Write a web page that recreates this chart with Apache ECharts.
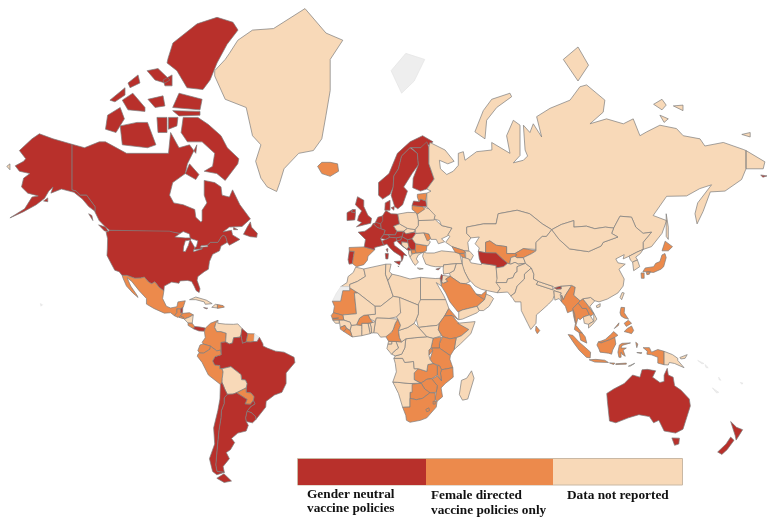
<!DOCTYPE html>
<html><head><meta charset="utf-8">
<style>html,body{margin:0;padding:0;background:#fff}#c{width:778px;height:521px}</style>
<script src="https://cdn.jsdelivr.net/npm/echarts@6/dist/echarts.min.js"></script>
</head><body><div id="c"></div>
<script>
const legendLabels = [["Gender neutral","vaccine policies"],["Female directed","vaccine policies only"],["Data not reported"]];
const genderNeutral = ["Canada","United States","Alaska","Panama","Belize","Jamaica","Brazil","Guyana","Uruguay","Argentina","Chile","Portugal","France","United Kingdom","Ireland","Norway","Sweden","Finland","Denmark","Germany","Netherlands","Belgium","Switzerland","Austria","Italy","Hungary","Slovenia","Croatia","Serbia","Montenegro","Latvia","Israel","Cyprus","Malta","Turkmenistan","Bhutan","Australia","New Zealand"];
const femaleDirected = ["Iceland","Mexico","Guatemala","Honduras","El Salvador","Costa Rica","Dominican Republic","Colombia","Ecuador","Peru","Paraguay","Suriname","Spain","North Macedonia","Bulgaria","Moldova","Estonia","Lithuania","Georgia","Armenia","Uzbekistan","Kyrgyzstan","Saudi Arabia","UAE","Mauritania","Senegal","Gambia","Burkina Faso","Sierra Leone","Liberia","Cameroon","Ethiopia","Eritrea","Uganda","Kenya","Rwanda","Tanzania","Malawi","Mozambique","Zambia","Zimbabwe","Botswana","South Africa","Eswatini","Lesotho","Sri Lanka","Myanmar","Thailand","Laos","Malaysia","Indonesia","Philippines","Japan"];
const noDataGrey = ["Svalbard","Western Sahara","French Guiana","Hawaii","Solomon Is","Vanuatu","New Caledonia","Fiji"];
const waterBodies = ["Great Lakes"];
const colors = {neutral:"#b8302b",female:"#ec8a4c",none:"#f8d9b8",grey:"#eeeeee"};
const shapes = {
"United States":[[-124.7,48.4,-123,49,-95,49,-94.6,48.7,-92,48.3,-89.5,48,-88,48.3,-84.7,46.5,-82.5,45.3,-82.4,43,-83,42,-79,42.8,-79,43.4,-76.5,44,-75,45,-71.5,45,-70,46.7,-69,47.4,-67.8,47,-67,45,-70,43.7,-70.7,42,-74,40.7,-75.5,38,-76,35,-78,34,-81,32,-81.4,30.5,-80,26.8,-80.4,25.2,-81.8,26,-82.8,28,-84,30,-86,30.4,-89.5,30.2,-90,29.2,-93.5,29.7,-97,28,-97.2,25.9,-99.5,27.5,-101.5,29.8,-103,29,-104.5,29.7,-106.5,31.8,-108.2,31.4,-111,31.3,-114.8,32.5,-117.1,32.5,-118.5,34,-120.6,34.6,-122.5,37.5,-124.3,40.3,-124.1,43,-124,46.2]],
"Canada":[[-141,69.6,-135,69,-128,70,-125,70,-115,68,-108,68,-100,68,-95,68,-94,71.5,-90,69,-85,69.5,-82,68,-81.5,69.5,-86,66,-87,64,-93,62,-94.5,59,-92.5,57,-88,56.5,-82.5,55.2,-82,53,-79.5,51.5,-79,52,-79,55,-76.7,57,-78,59,-78,62.5,-73,62,-70,61,-69.5,59,-66,58.5,-64.5,60.3,-61,56.5,-56,52.5,-60,50.2,-66,50,-69,48.5,-65,49,-64.5,47.5,-61,46,-66,44,-67,45,-67.8,47,-69,47.4,-70,46.7,-71.5,45,-75,45,-76.5,44,-79,43.4,-79,42.8,-83,42,-82.4,43,-82.5,45.3,-84.7,46.5,-88,48.3,-89.5,48,-92,48.3,-94.6,48.7,-95,49,-123,49,-125,50,-128,52,-130,54.5,-130,56,-134,59,-137,59,-139,60,-141,60.3],
[-62,66,-68,62.5,-72,64,-78,64.5,-74,65.5,-73,68,-79,70,-86,70,-89,71.5,-88,73.7,-81,73.7,-76,72.7,-70,71,-67,69,-61.5,67],
[-117,69.5,-105,69,-101,69.5,-105,73,-110,73,-118,72.5],[-125,72,-120,71.5,-116,73.5,-118,75,-124,74],
[-95.2,80.1,-92.9,81.3,-81.4,82.6,-71.9,83,-64.3,82.7,-61.9,82.2,-67.1,81.2,-71.9,79.7,-75.2,78.1,-78.6,77.1,-86.2,77.3,-91,79,-95.7,79.7],
[-93,75,-80,74.7,-79,76,-90,76.7],[-93,74.6,-80,74.5,-80,74,-90,73.9],
[-105.2,79,-100,79.2,-94.3,78.1,-96.7,77.8,-101.4,78.1],[-114.3,77.8,-109.5,78.6,-108.6,77.8,-113.3,77.3],[-122.9,75.9,-115.7,77.3,-115.7,76.5,-120.5,75.7],[-117,75.9,-112,76.7,-106.2,75,-106.2,74.5,-114.3,74.7],[-104.8,76,-97.6,76.4,-96.7,75.2,-101.4,75],[-97.6,78.1,-93.3,78.6,-93.3,77.5,-96.7,77.5],[-100.5,73.7,-95.7,73.7,-95.7,71.5,-100,71.5],[-95,73.7,-90.5,73.7,-91,72.5,-95,72],
[-87,64,-82,62.7,-80.5,63.8,-85,66],[-59.3,47.7,-56,46.9,-53,46.7,-52.7,48,-55.5,50,-56,51.6,-57.5,50],[-128.3,50.7,-125,50,-123.5,48.5,-125.5,48.8],[-133,54,-131.5,53.5,-131,52,-132,53],[-64,49.9,-62,49.2,-64,49.2]],
"Great Lakes":[[-92,46.8,-88,48.6,-85,47.8,-84.7,46.5,-87,46.5],[-88,41.8,-87,41.7,-85.5,44,-84.8,45.8,-87,45.5,-87.8,43.5],[-84.6,45.8,-82.5,43.2,-81.7,43.5,-81,45.5,-84,46.2],[-83,41.7,-79,42.7,-79,43,-83,42.4],[-79.8,43.3,-76.2,43.5,-76.5,44,-79.5,43.8]],
"Alaska":[[-141,69.6,-141,60.3,-139,60,-137,59,-134,59,-130,56,-130,54.7,-133,56,-136,58,-140,59.7,-146,60.5,-151,59.5,-150,61,-152,60,-154,58.2,-158,56.5,-164,54.6,-170.5,52.8,-163.5,55.4,-160,58.5,-157,58.8,-162,59.5,-165,61,-164,63,-161,64,-166,64.5,-168,65.6,-164,66.5,-163,67,-166,68.5,-160,70.5,-156.5,71.3,-150,70.5],[-154.5,57.5,-152.5,58.3,-152.5,57.3],[187,63.7,190,63.5,188,63.2]],
"Greenland":[[-73,78.5,-68,76,-58,75,-55,71,-51,69.5,-53.5,66.5,-51,63,-48,61,-43.5,59.9,-42,62,-40,65,-33,68,-26,68.5,-22,70.5,-20,74,-18,77,-18,80,-12,81.5,-20,82,-30,83.5,-45,82.3,-55,82.2,-62,81.5,-66,80.5,-68,80,-73,79]],
"Iceland":[[-24,65.5,-22,64,-18,63.4,-14,64.5,-14.5,66,-18,66.3,-22,66.3]],
"Mexico":[[-117.1,32.5,-114.8,32.5,-111,31.3,-108.2,31.4,-106.5,31.8,-104.5,29.7,-103,29,-101.5,29.8,-99.5,27.5,-97.2,25.9,-97.8,22.5,-96,19,-94,18.2,-91,18.8,-90.5,21,-87,21.5,-88,18.5,-89.2,17.8,-91,17.8,-91,16,-92.2,14.6,-94,16,-97,15.8,-102,18,-105.5,20,-105.5,22.5,-109,26,-112.5,30,-114.7,31.5,-113,28,-110,24,-109.5,23,-112,25,-115,28,-116.5,31]],
"Guatemala":[[-92.2,14.6,-91,16,-91,17.8,-89.2,17.8,-89,15.8,-88.2,15.7,-89.3,14.4,-90.5,13.8]],
"Belize":[[-89.2,17.8,-88.2,18.5,-88.3,16,-89.1,15.9]],
"Honduras":[[-89.3,14.4,-88.2,15.7,-85,16,-83.2,15,-85,14,-87.5,13]],
"El Salvador":[[-90,13.8,-89.3,14.4,-87.7,13.8,-87.9,13.2]],
"Nicaragua":[[-87.5,13,-85,14,-83.2,15,-83.7,11,-85.7,11.1]],
"Costa Rica":[[-85.7,11.1,-83.7,11,-82.6,9.5,-83,8.3,-85.7,10]],
"Panama":[[-83,8.3,-82.6,9.5,-80,9.2,-77.4,8.7,-77.9,7.2,-80.5,7.3]],
"Cuba":[[-85,22,-82,23.2,-77,21.8,-74.2,20.2,-77.5,19.9,-78,21,-82,22]],
"Jamaica":[[-78.3,18.4,-76.3,18.1,-77,17.8]],
"Haiti":[[-74.4,18.5,-72.7,19.9,-71.7,19.8,-71.7,18.2]],
"Dominican Republic":[[-71.7,19.8,-69,19.3,-68.4,18.6,-71.7,18]],
"Colombia":[[-77.4,8.7,-75,11,-71.5,12.4,-72.5,11,-73,9,-72,7,-70,7,-67.5,6.2,-67.8,2,-70,1.7,-69.9,-4.2,-70.3,-2,-72,-2.4,-75,-0.1,-78.5,1,-79,1.8,-77.5,4,-77.9,7.2]],
"Venezuela":[[-71.5,12.4,-71.5,11,-68,10.6,-64,10.5,-62,10.7,-60,8.5,-60.5,5.2,-61,4.3,-64,4,-64.5,1.5,-66,1,-67.8,2,-67.5,6.2,-70,7,-72,7,-73,9,-72.5,11]],
"Guyana":[[-60,8.5,-57.2,6,-58,2,-59.8,1.3,-60.5,5.2]],
"Suriname":[[-57.2,6,-54,5.9,-54.3,2.2,-56,1.9,-58,2]],
"French Guiana":[[-54,5.9,-51.7,4.2,-52.8,2.2,-54.3,2.2]],
"Brazil":[[-60.5,5.2,-59.8,1.3,-58,2,-56,1.9,-54.3,2.2,-52.8,2.2,-51.7,4.2,-50,1,-50,0,-48,-1,-44,-2.5,-40,-3,-35.2,-5.5,-34.8,-8,-39,-13,-39,-18,-41,-22,-44.5,-23.2,-48.5,-26,-48.7,-28.5,-53.4,-33.7,-53.5,-32.5,-55.5,-30.9,-57.6,-30.2,-55.8,-28.3,-53.8,-27.1,-54.6,-25.6,-54.3,-24,-55.7,-22.3,-58,-22,-58,-20,-57.6,-18,-58.4,-16.3,-60.2,-16.2,-60.5,-13.8,-65.3,-10,-69.5,-11,-70.6,-11,-70.6,-9.5,-73,-9.3,-74,-7.3,-72.9,-5.2,-69.9,-4.2,-70,1.7,-67.8,2,-66,1,-64.5,1.5,-64,4,-61,4.3]],
"Ecuador":[[-78.5,1,-75,-0.1,-75.3,-1.6,-78.3,-3.5,-80.3,-3.4,-81,-2.2,-80,0.5]],
"Peru":[[-75,-0.1,-72,-2.4,-70.3,-2,-69.9,-4.2,-72.9,-5.2,-74,-7.3,-73,-9.3,-70.6,-9.5,-70.6,-11,-69.5,-11,-69,-12.5,-69.4,-15.5,-69.5,-17.5,-70.4,-18.3,-76,-14,-79,-8,-81.3,-5,-81,-4,-80.3,-3.4,-78.3,-3.5,-75.3,-1.6]],
"Bolivia":[[-69.5,-11,-65.3,-10,-60.5,-13.8,-60.2,-16.2,-58.4,-16.3,-57.6,-18,-58,-20,-62.6,-22.2,-64.3,-22.8,-67,-22.9,-68,-21,-69.5,-17.5,-69.4,-15.5,-69,-12.5]],
"Paraguay":[[-58,-20,-58,-22,-55.7,-22.3,-54.3,-24,-54.6,-25.6,-56,-27.3,-58.6,-27.2,-57.6,-25.2,-62.6,-22.2]],
"Uruguay":[[-57.6,-30.2,-55.5,-30.9,-53.5,-32.5,-53.4,-33.7,-55,-35,-58,-34.5,-58.3,-33]],
"Argentina":[[-67,-22.9,-64.3,-22.8,-62.6,-22.2,-57.6,-25.2,-58.6,-27.2,-56,-27.3,-54.6,-25.6,-53.8,-27.1,-55.8,-28.3,-57.6,-30.2,-58.3,-33,-58,-34.5,-57,-36,-58,-38.2,-62,-39,-65,-41,-63.5,-42.5,-65.5,-45,-67.5,-46,-66,-48,-69,-50.5,-68.4,-52.3,-71.9,-52,-72.5,-50,-72,-46,-71.5,-42,-71,-38,-70,-33,-69.8,-30,-68.5,-27,-68.5,-24.5],[-68.6,-52.7,-65,-54.8,-68.5,-55.2,-72,-54]],
"Chile":[[-69.5,-17.5,-68,-21,-67,-22.9,-68.5,-24.5,-68.5,-27,-69.8,-30,-70,-33,-71,-38,-71.5,-42,-72,-46,-72.5,-50,-71.9,-52,-68.4,-52.3,-72,-53,-74,-52,-75.5,-48,-73,-43,-73.5,-37,-71.5,-30,-70.5,-25,-70.3,-18.3]],
"Portugal":[[-8.9,41.9,-6.5,41.8,-7,39.5,-7.4,37.2,-9,37,-9.5,38.7]],
"Spain":[[-9,43.2,-1.8,43.4,3.2,42.4,0,40,-0.3,38.5,-2,36.8,-5.5,36,-7.4,37.2,-7,39.5,-6.5,41.8,-8.9,41.9]],
"France":[[-1.8,43.4,-1.2,46,-4.7,48.4,-1.5,48.7,1.5,50.1,2.5,51.1,4.2,50,8.2,49,7.5,47.6,6,46.3,7.5,44,3.2,43.2,3.2,42.4],[8.6,42.6,9.5,42.8,9.3,41.5]],
"United Kingdom":[[-5.5,50.1,1.3,51.2,1.7,52.7,0,53.5,-2,56,-2,57.7,-5,58.6,-6,56.5,-3,54.8,-4.5,53.3,-5,52,-3,51.4],[-8,54.5,-6,54.3,-6,55.2,-7.3,55.2]],
"Ireland":[[-10,52,-6.3,52.2,-6,53.8,-6,54.3,-8,54.5,-7.3,55.2,-10,54.3]],
"Norway":[[5,59,7,58,10.5,59.2,12,61,12.3,63.5,14.5,65,16,67.5,20,69,25,69,29,69.5,31,70,26,71,20,70,14,68,10,64,5,62]],
"Sweden":[[11,59,12.7,56,14.2,55.4,16.5,56.5,18.8,60,17,61,21,64,24,65.8,23.5,68,20,69,16,67.5,14.5,65,12.3,63.5,12,61]],
"Finland":[[24,65.8,21.5,63,21.3,60.8,25,60,28,60.5,31.5,62.8,29,66,29,69,28,70,25,69,20.6,69,23.5,68]],
"Denmark":[[8,55,8.2,57,10.5,57.7,10.5,55],[11,55.7,12.5,56,12.3,55]],
"Germany":[[7,53.5,8.5,54.9,11,54,14.2,53.9,15,51,12.2,50.3,13.8,48.7,13,47.5,7.5,47.6,8.2,49,6.2,49.5,6,51]],
"Netherlands":[[3.5,51.4,4.7,53,7,53.4,7,51.9,6,51,4,51.3]],
"Belgium":[[2.5,51.1,4,51.4,6,51,6.2,49.5,4.2,50]],
"Switzerland":[[6,46.3,7.5,47.6,9.7,47.5,10.4,46.7,8.5,46]],
"Austria":[[9.7,47.5,13,47.5,13.8,48.7,17,48.7,16.2,46.9,13.5,46.5,10.4,46.7]],
"Italy":[[7.5,44,6.7,45.5,8.5,46,10.4,46.7,13.5,46.5,13.7,45.6,12.3,45,12.5,44,16,42,18.5,40.2,17,40.5,16.6,39,16,38,15.7,38.3,15.7,40,12.3,41.7,10.5,43,9,44.4],[12.5,38,15.6,38.2,15,36.7],[8.2,41,9.7,41,9.5,39,8.5,39]],
"Czechia":[[12.2,50.3,15,51,18.8,49.6,17,48.7,13.8,48.7]],
"Slovakia":[[17,48.7,18.8,49.6,22.5,49.2,22,48.4,18,47.8]],
"Hungary":[[16.2,46.9,17,48.7,18,47.8,22,48.4,22.8,48,21,46.2,18.8,45.9]],
"Poland":[[14.2,53.9,19,54.4,23,54.3,24,52.5,24,50.5,22.5,49.2,18.8,49.6,15,51]],
"Slovenia":[[13.5,46.5,16.2,46.9,15.6,45.8,13.7,45.5]],
"Bosnia":[[16,45.2,19,45,19.5,43.5,18.5,42.5,16,44]],
"Croatia":[[13.7,45.5,15.6,45.8,16.2,46.9,18.8,45.9,19,45,16,45.2,16,44,18.5,42.5,15,44.5]],
"Serbia":[[18.8,45.9,21,46.2,22.7,44.5,22.5,42.3,20.5,42.3,19.5,43.5,19,45]],
"Montenegro":[[18.5,42.5,19.5,43.5,20.5,42.3,19.3,42]],
"Albania":[[19.3,42,20.5,42.3,21,40.6,20,39.7,19.3,41]],
"North Macedonia":[[20.5,42.3,22.5,42.3,23,41.2,21,40.8]],
"Greece":[[21,40.8,23,41.2,26.3,41.5,24,40.5,23,39,24,37.8,22.5,36.5,21.5,37.5,20,39.7],[23.5,35.5,26.3,35.2,24.5,34.9]],
"Bulgaria":[[22.7,44.5,28,43.8,27.8,42,26.3,41.5,23,41.2,22.5,42.3]],
"Romania":[[22.8,48,26.6,48.2,28.2,46,29.7,45.2,28.6,43.8,22.7,44.5,21,46.2]],
"Moldova":[[26.6,48.2,29,47.8,30,46.3,28.2,45.5]],
"Ukraine":[[24,50.5,24,52,32,52.3,35,50.5,40,49.7,38,47.2,35,46.2,36.5,45.2,33.5,44.5,32.5,46,30,46,29,47.8,26.6,48.2,22.8,48,22.5,49.2]],
"Belarus":[[24,52,23.5,53.9,27,55.8,31,55,32,53.5,31.5,52.2]],
"Lithuania":[[21,55.2,21,56.3,26,56,27,55.3,23.5,53.9,23,54.3]],
"Latvia":[[21,56.3,21.7,57.5,24.3,57.3,25,58,27.5,57.5,28,56,26,56]],
"Estonia":[[23.5,58.5,23.5,59.2,28,59.5,27.5,57.5,25,58,24.3,57.3]],
"Russia":[[29.5,69.9,36.7,68.6,41,66.5,38,66,34,66.7,34.5,65,37.5,63.8,40.6,64.5,43,65.7,43,68,45.4,68.3,46.2,66.7,51.7,68.3,59,68.6,58.9,69.9,67.6,68,66,71,69.2,73.3,72.4,72.6,72.4,67.6,69.2,66.2,74,66.7,76,67.5,74.8,68.6,74,72.6,77.1,71.5,78.7,72.8,82.7,70.8,80.3,73.8,86.7,74.9,96.2,75.9,100.9,77.4,104.1,77.6,112.8,75.9,112,74.4,105.7,72.8,113.6,73.5,121.6,72.8,126.3,73.5,129.5,71,132.7,71.6,139,72.6,146.9,72.1,150.1,71,158.1,70.5,160.4,69.3,169.2,69.9,178.7,68.7,180,68.5,180,65,177.9,62.7,170,60,163,59.8,159.6,54.7,156.7,51,155.7,54,157,57,163.6,61.5,158,60.6,151.7,58.8,142.2,58.7,135.8,53.5,142.2,52,140,48,135,43.5,131,42.5,131,45,135,48.4,131,48,127.5,50,125.5,53,120,53.3,117,49.7,113,50,108,49.5,104,50.3,98,50,98,52,92,50.8,87.5,49.2,83,51,77,54,71,55,62,54,61,51,55,51,47,50,47,48,49,46.5,47.5,45,48,42,46,42,40,43.5,37,45,39,47,38,47.5,40,49.7,35,50.5,34,52,31.5,52.5,32,53.5,28,56,28,59.5,30,60,28,60.5,31.5,62.8,29,66,29,69],[180,68.5,189,66.4,188.2,65,180,65],[50.9,71.6,54.9,74.6,58.9,76,67.6,76.7,68.4,76.3,61.3,75,56.5,73.3,55.7,70.5],[142,54,143,50,143,46,142,47,142,50],[93,80,100,81,105,79.5,100,78],[136,75.4,140,76,142,75.3,140,74.7],[145.4,75.2,150,75.3,150,74.6],[139,74,143,73.5,141,73],[178,71.2,182,71.5,182,70.8],[-172,65.5,-170.5,66,-170.5,64.8]],
"Svalbard":[[11,79,16,76.7,22,78,27,80,18,80.5]],
"Turkey":[[26,40,26.5,41.5,28,41.2,31.5,41.2,35,42,41.5,41.5,43.7,41,44.8,37.2,42,37.2,36,36.7,36,36,32,36,30,36.3,27.5,37]],
"Cyprus":[[32.3,35,34.5,35.6,33.5,34.7]],
"Malta":[[14.2,36.2,14.8,36,14.4,35.7]],
"Georgia":[[40,43.5,46,42,46.5,41.2,43.5,41,41.5,41.5]],
"Armenia":[[43.5,41,46,41,46.5,39,44.8,39.7]],
"Azerbaijan":[[46.5,41.2,46,42,48.5,41.8,50.2,40.3,49,38.5,46.5,39]],
"Iran":[[44.8,39.7,48,39,49,37.5,54,36.8,54,37.3,61,36.5,61.5,31.3,63,27,61.6,25.1,57,26,54,26.6,51,28,49,30,47.8,31,46,34,45,36]],
"Iraq":[[38.8,33.4,41,34.5,42,37.2,44.8,37.2,46,34,47.8,31,48.5,29.9,46.5,29,44,29.2,39.2,32.1]],
"Syria":[[36,36.7,42,37.2,41,34.5,38.8,33.4,36,33,35.8,35]],
"Jordan":[[35,29.5,35.5,32.5,39.2,32.1,37,31,38,30,36,29.2]],
"Israel":[[34.3,31.3,35,33,35.5,32.5,35,29.5]],
"Saudi Arabia":[[35,29.5,36,29.2,38,30,37,31,39.2,32.1,44,29.2,46.5,29,48.5,28.5,50,26.5,51.5,24.5,55.5,22,52,19,48.7,18.2,45,17.3,43.2,16.5,42.7,16.5,39,21,37,25,35,28]],
"UAE":[[51.5,24.5,54,24.2,56.3,26,56.3,24.5,55.5,22]],
"Yemen":[[43.2,12.7,45,13,52,16,53,17,52,19,48.7,18.2,45,17.3,43.2,16.5]],
"Oman":[[53,17,52,19,55.5,22,56.3,24.5,58.5,23.6,59.8,22.5,57.7,19,55,17]],
"Kazakhstan":[[47,50,55,51,61,51,62,54,71,55,77,54,83,51,87.5,49.2,85,47,83,47,80,45,80,42.5,74,42.8,70,41,66,41,66,43.5,61,44,58,45.5,56,45,56,41.3,52.5,41.8,53,43,51,44.5,53,46.8,49,46.5,47,48]],
"Uzbekistan":[[56,45,58,45.5,61,44,66,43.5,66,41,70,41,71,40.5,73,40.5,70,40,68,39.5,67.5,37.2,66.5,37.3,64,39,61,41.2,56,41.3]],
"Turkmenistan":[[52.5,41.8,56,41.3,61,41.2,64,39,66.5,37.3,64.5,36,61,35.5,61,36.5,54,37.3,53,39]],
"Tajikistan":[[67.5,37.2,68,39.5,70,40,71,39.5,74,39.5,75,37.3,71.5,37,70,37.7,68,37]],
"Kyrgyzstan":[[70,41,71,40.5,70,40,71,39.5,74,39.5,78,41,80,42,74,42.8]],
"Afghanistan":[[61,35.5,64.5,36,66.5,37.3,68,37,70,37.7,71.5,37,75,37.3,71,36,71,34,70,33.5,69,31.5,66.5,31,66,29.5,61,29.5,61.5,31.3]],
"Pakistan":[[61.6,25.1,63,27,61,29.5,66,29.5,66.5,31,69,31.5,70,33.5,71,34,71,36,75,37.3,77.8,35.5,74.5,33,74.5,31,71,28,70,25,68,23.7,66.5,25.4]],
"India":[[68,23.7,70,25,71,28,74.5,31,74.5,33,77.8,35.5,79,33,78.8,31,81,30,80.2,28.7,88,26.4,88.8,27.3,89.8,26.7,92,26.8,92,28,97,28.3,94,24,93,22,92.2,24,91.5,24.2,92,25,88.5,26,88.7,24,88,22,86,20,82,16.5,80.2,15,80,11,77.5,8,76,11,73,17,72.8,21,70,21,69,22.5]],
"Nepal":[[80.2,28.7,81,30,88,27.9,88,26.4]],
"Bhutan":[[88.8,27.3,91.8,28,92,26.8,89.8,26.7]],
"Bangladesh":[[88.5,26,92,25,91.5,24.2,92.2,21,91,22.5,89,21.8,88.7,24]],
"Sri Lanka":[[80,9.7,81.8,7.5,80.6,6,79.8,7.5]],
"Myanmar":[[92.2,21,92.2,24,93,22,94,24,97,28.3,98.7,27.5,98,24,101,21.5,100,20.4,97.5,18,98.5,15,98.8,11,98,14,97.5,17,95,16,94,19]],
"Thailand":[[97.5,18,100,20.4,101,19.5,102,18,104,18,105.5,15,102.5,14,101,12.7,100,13.5,99,10,102,6.3,100.5,6.5,98.3,8,98.8,11,98.5,15]],
"Laos":[[100,20.4,101,21.5,102.3,22.4,104.7,19.5,107.5,15.5,106,14.3,105.5,15,104,18,102,18,101,19.5]],
"Cambodia":[[102.5,14,105.5,15,106,14.3,107.5,12,105,10.5,103,11]],
"Vietnam":[[102.3,22.4,106,23,108,21.5,105.7,19,109,13,107,10.5,105,8.7,105,10.5,107.5,12,107.5,15.5,104.7,19.5]],
"China":[[74,39.5,78,41,80,42,80,45,83,47,85,47,87.5,49.2,91,46,96,42.7,105,41.7,111,43.7,112,45,119,46.8,116,48,117,49.7,120,53.3,125.5,53,127.5,50,131,48,135,48.4,131,45,131,42.5,128,41.5,124.3,40,121.5,39,122,40.6,118,39,119,37.5,122.5,37,119.5,35,122,31,121.5,28,119,25,114,22.3,110,21,108,21.5,106,23,102.3,22.4,101,21.5,98,24,98.7,27.5,97,28.3,92,28,88.8,27.3,88,27.9,81,30,78.8,31,79,33,77.8,35.5,75,37.3],[108.7,19.2,110.6,20.2,110.5,18.8,109,18.3]],
"Mongolia":[[87.5,49.2,92,50.8,98,52,98,50,104,50.3,108,49.5,113,50,117,49.7,116,48,119,46.8,112,45,111,43.7,105,41.7,96,42.7,91,46]],
"North Korea":[[124.3,40,128,41.5,131,42.5,129.7,41,127.5,39.7,128.3,38.6,126,37.8,125,38.5]],
"South Korea":[[126,37.8,128.3,38.6,129.4,36,126.5,34.4]],
"Japan":[[130.9,34,132,35.5,136,36,137,37.3,139,38,140,40.5,141.4,41,142,39.5,140.8,36,139.5,35,136,33.7,132,34],[140,42,141.5,45.4,145,43.5,143,42],[130,33.5,131.5,33.5,131.5,31.3,130.2,31.3],[132.5,33.8,134.5,34,134,33,132.8,32.8]],
"Taiwan":[[121,25.2,122,25,120.8,22,120,23]],
"Philippines":[[120.5,18.5,122.2,18.4,122,16,124,13,122,13.5,120.5,14.5,120,16],[122,7,123.5,8.5,125.5,9.7,126.5,7.5,125.5,6,124,6.5],[122,11,124,12.5,125.5,11,123,9.5],[117.3,8.5,119.5,11.2,119.3,10]],
"Malaysia":[[100.5,6.5,102,6.3,103.4,4.5,104.2,1.4,101.3,2.8],[109.7,2,111,1.5,115,3,117.5,4.2,119,5.2,117,7,115.5,5.5,113,3.2,111.3,2.5]],
"Indonesia":[[109,0.5,109.7,2,111,1.5,115,3,117.5,4.2,118,1,116.5,-2,116,-4,114.5,-3.5,110.5,-3,110,-1.5],[95.3,5.6,97.5,5.2,100.5,2,103.8,-1,106,-3,105.8,-5.8,104,-5.5,100.5,-2,98,1.5],[105.3,-6.7,108.5,-6.5,112.7,-6.9,114.5,-8,108,-7.8],[119.5,-5.5,119,-3,119.7,0.5,121,1.3,125,1.5,121,0.3,120.5,-1,121.5,-1,123,-1,121.5,-2,122.5,-5,121,-4,120.5,-3,120.5,-5.5],[131,-0.8,134,-0.8,135,-3,138,-1.7,141,-2.6,141,-9.1,138,-8.3,138,-5.5,135,-4.3,132.8,-4,133,-2.5],[118,-8.6,123,-8.3,123,-8.8,118,-9],[127.5,1.8,128.5,1,128,-0.8],[128,-3.2,130.5,-3.3,130,-3.6],[115,-8.2,117.5,-8.3,117,-9]],
"Timor":[[124,-9.8,127,-8.4,125,-9.7]],
"Papua New Guinea":[[141,-2.6,145,-4.2,147.5,-6,147.5,-7,150.5,-10.5,146,-8.5,143.5,-8,143,-9.2,141,-9.1],[148.5,-5.6,152,-4.2,151,-6,149,-6.3]],
"Australia":[[113.7,-22.5,114,-26,115,-34.3,118,-35,124,-33,129,-31.7,134,-32.5,136,-35,138.5,-34,141,-38.2,146.5,-39,150,-37.5,153.5,-28,153,-25,149,-21,146,-19,145.3,-15,143,-14,142.5,-10.8,141,-14,141,-17,139,-17.5,135.5,-15,137,-12,133,-11.3,130.5,-11.5,129.5,-15,126,-14,122,-18,117,-20.5],[144.7,-40.8,148.3,-40.9,148,-43,146,-43.5]],
"New Zealand":[[172.7,-34.5,175.5,-36.8,178.4,-37.7,177,-39.5,175.3,-41.6,174.8,-39.8],[172.7,-40.5,174.3,-41.7,171,-45,168.5,-46.6,166.5,-45.8,170.5,-43]],
"Hawaii":[[-156,20.2,-155,19.7,-155.7,19]],
"Solomon Is":[[157,-7,160,-8.5,159,-8.6],[160.5,-9,162,-10.5,161,-10.5]],
"Vanuatu":[[167,-15,168,-16.5,167.2,-16.2]],
"New Caledonia":[[164,-20,167,-22,166,-22.3]],
"Fiji":[[177.3,-17.5,178.6,-17.8,178,-18.3]],
"Morocco":[[-5.9,35.8,-2,35.1,-1.2,32.1,-5,30,-8.7,28.7,-8.7,27.7,-13,27.7,-10,29.5,-9.5,32,-7,33.7]],
"Western Sahara":[[-13,27.7,-8.7,27.7,-8.7,26,-12,26,-13,21.3,-17,21.3,-15,25]],
"Mauritania":[[-17,21.3,-13,21.3,-12,26,-8.7,26,-8.7,27.3,-4.8,25,-6.5,25,-5.5,15.5,-11.5,15,-12,14.8,-16.5,16,-16,19]],
"Algeria":[[-2,35.1,8.5,37,8.3,33,9.5,30,12,23.5,6,19,3.3,19,-4.8,25,-8.7,27.3,-8.7,28.7,-5,30,-1.2,32.1]],
"Tunisia":[[8.5,37,11,37,10.2,34,11.5,33,9.5,30.3,8.3,33]],
"Libya":[[11.5,33,15,32.3,20,31,25,31.7,25,20,24,19.5,15,23,12,23.5,9.5,30.3]],
"Egypt":[[25,31.7,32,31.2,34.3,31.3,35,28,32.5,29.5,36,24,37,22,25,22]],
"Sudan":[[25,22,37,22,38.5,18,36.5,14.5,34,11,33,10,28,9.5,24,9,23,13,24,15.5,24,20]],
"South Sudan":[[24,9,28,9.5,33,10,34,11,33.5,8,35,5,31,3.7,28,4.5]],
"Eritrea":[[36.5,14.5,38.5,18,43,12.7,40,14.7]],
"Ethiopia":[[34,11,36.5,14.5,40,14.7,42.7,11.5,48,8,44.5,5,42,4,39,3.5,35.5,4.5,33.5,8]],
"Somalia":[[41,-1.7,42,4,44.5,5,48,8,42.7,11,51,11.8,49,6,44,1]],
"Kenya":[[35.5,4.5,39,3.5,42,4,41,-1.7,39.2,-4.7,34,-1,34,1.2]],
"Uganda":[[30,-1,34,-1,34,1.2,35,4.4,31,3.7]],
"Rwanda":[[29,-4.5,30.8,-2.3,30,-1,29,-2]],
"Tanzania":[[30.5,-1,34,-1,39.2,-4.7,39,-6.5,40.4,-10.5,35,-11.5,34,-9.5,31,-8.5,29.5,-6.5,30.8,-2.3]],
"Mozambique":[[40.4,-10.5,40.6,-15,36.8,-18,34.8,-20,35.5,-24,32.9,-26,32,-25,32.5,-22,33,-19,30.3,-16,33,-14.5,35,-16.7,34.5,-13,35,-11.5]],
"Malawi":[[34,-9.5,35,-11.5,34.5,-13,35,-16.7,33,-14,33,-9.5]],
"Zambia":[[22,-11,24,-11,28,-12.3,28.5,-9,31,-8.5,33,-9.5,33,-14,30.3,-15.7,28,-16,25.3,-17.8,22,-16.2]],
"Zimbabwe":[[25.3,-17.8,28,-16,30.3,-15.7,33,-19,32.5,-22,29.5,-22.2,27,-20.5]],
"Botswana":[[20,-18,25.3,-17.8,27,-20.5,29.5,-22.2,26,-24.7,23,-25.3,20,-24.7,20,-22]],
"Namibia":[[11.8,-17.3,14,-17.4,20,-18,25,-17.8,21,-18.3,21,-22,20,-22,20,-28.5,16.5,-28.6,14.5,-22.5]],
"South Africa":[[16.5,-28.6,20,-28.5,20,-24.7,23,-25.3,26,-24.7,29.5,-22.2,32,-22.3,32,-26,32.9,-26,32.5,-28.5,28,-33,25,-34,20,-34.8,18.3,-34,18,-32]],
"Eswatini":[[31,-26,32,-26,32,-27.2,31,-27.2]],
"Lesotho":[[27.5,-29.5,29,-28.8,29.3,-30,28,-30.5]],
"Madagascar":[[49.3,-12,50.5,-15.5,47.5,-25,45,-25.5,43.5,-23,44.5,-16.5,47,-15.5]],
"Angola":[[12.3,-6,16.5,-6,17.5,-8,21.7,-7.5,22,-11,24,-11,22,-13,22,-16.2,25,-17.8,20,-18,14,-17.4,11.8,-17.3,13.5,-12.5,13,-8.5]],
"DR Congo":[[12.3,-6,13,-4.8,16,-4,17.5,-1,18,3.5,22,4,28,4.5,31,3.7,30,-1,29,-2,29,-4.5,29.5,-6.5,31,-8.5,28.5,-9,28,-12.3,24,-11,22,-11,21.7,-7.5,17.5,-8,16.5,-6]],
"Congo":[[11.2,-4,13,-4.8,16,-4,17.5,-1,18,3.5,16,2,13.3,2.2,14.5,-1,12.5,-2.5]],
"Gabon":[[9,-1.3,9.5,1,11.3,1,11.3,2.2,13.3,2.2,14.5,-1,12.5,-2.5,11.2,-4]],
"Equatorial Guinea":[[9.5,1,11.3,1,11.3,2.2,9.8,2.3]],
"Cameroon":[[8.5,4.5,9.8,2.3,13.3,2.2,16,2,15,4,14.5,7.5,15.5,10,14.2,13,13,11,12,8,11,6.5,10,7]],
"CAR":[[15,4,16,2,18,3.5,22,4,28,4.5,24,9,23,10,22,11,19,9,14.5,7.5]],
"Chad":[[13.5,14,14.2,13,15.5,10,14.5,7.5,19,9,22,11,23,13,24,15.5,24,19.5,15,23,14,22.5,15.5,16]],
"Niger":[[0,15,3.5,15.3,3.3,19,6,19,12,23.5,15,23,15.5,16,13.5,14,10,13.3,4,13.5,3.5,11.8,1,13]],
"Nigeria":[[2.7,6.4,3.5,11.8,4,13.5,10,13.3,14.2,13,13,11,12,8,11,6.5,8.5,4.5,6,4.3,4.5,6.3]],
"Benin":[[1.7,6.3,2.7,6.4,3.5,11.8,1,11,1.5,9]],
"Togo":[[1,6,1.7,6.3,1.5,9,1,11,0,11]],
"Ghana":[[-3,5,1,6,0,11,-3,11,-3,8]],
"Cote d'Ivoire":[[-7.5,4.4,-3,5,-3,8,-3,10,-5.5,10.3,-8,10,-8.5,7.5]],
"Burkina Faso":[[-5.5,10.3,-3,10,-3,11,0,11,2.3,11.5,1,13,0,15,-2,14.8,-4,13.5]],
"Mali":[[-12,14.8,-11.5,15,-5.5,15.5,-6.5,25,-4.8,25,3.3,19,3.5,15.3,0,15,-2,14.8,-4,13.5,-5.5,10.3,-8,10,-8.5,11.5,-11.5,12.5]],
"Senegal":[[-17.5,14.7,-16.5,16,-12,14.8,-11.5,12.5,-16.7,12.4]],
"Gambia":[[-16.7,13.4,-14,13.5,-14,13.2,-16.7,13.1]],
"Guinea-Bissau":[[-16.7,12.4,-13.7,12.5,-13.7,11,-15.5,11]],
"Guinea":[[-13.7,12.5,-11.5,12.5,-8.5,11.5,-8,10,-8.5,7.6,-10,8.5,-11,10,-13.2,9]],
"Sierra Leone":[[-13.2,9,-11,10,-10.3,8.5,-11.5,7,-13.2,8.2]],
"Liberia":[[-11.5,7,-10.3,8.5,-8.5,7.5,-7.5,4.4]]
};
const rad = Math.PI/180;
const project = p => [368 + 2.1*p[0], 346 - 2.053*Math.log(Math.tan(Math.PI/4 + p[1]*rad/2))/rad];
const unproject = q => [(q[0]-368)/2.1, (2*Math.atan(Math.exp((346-q[1])/2.053*rad)) - Math.PI/2)/rad];
function toRing(flat){const r=[];for(let i=0;i<flat.length;i+=2)r.push([flat[i],flat[i+1]]);r.push([flat[0],flat[1]]);return r;}
const features = Object.keys(shapes).map(n=>({type:"Feature",properties:{name:n},geometry:{type:"MultiPolygon",coordinates:shapes[n].map(f=>[toRing(f)])}}));
echarts.registerMap("world",{type:"FeatureCollection",features});
function colorOf(n){
  if(genderNeutral.includes(n)) return colors.neutral;
  if(femaleDirected.includes(n)) return colors.female;
  if(noDataGrey.includes(n)) return colors.grey;
  if(waterBodies.includes(n)) return "#ffffff";
  return colors.none;
}
const chart = echarts.init(document.getElementById("c"),null,{renderer:"canvas"});
const regionData = Object.keys(shapes).map(n=>({name:n,value:1,itemStyle:{areaColor:colorOf(n),color:colorOf(n),borderColor:noDataGrey.includes(n)?"#e4e4e4":"#7d7d7d"}}));
const fontFam = '"Liberation Serif","Times New Roman",serif';
function lab(x,y,t){return {type:"text",left:x,top:y,silent:true,style:{text:t,fill:"#111",font:"bold 13.3px "+fontFam}};}
chart.setOption({
  animation:false,
  backgroundColor:"#fff",
  series:[{type:"map",map:"world",projection:{project,unproject},
    boundingCoords:[unproject([0,0]),unproject([778,521])],
    left:0,top:0,width:778,height:521,silent:true,selectedMode:false,roam:false,
    label:{show:false},emphasis:{disabled:true},
    itemStyle:{borderColor:"#7d7d7d",borderWidth:0.7},
    data:regionData}],
  graphic:[
    {type:"rect",shape:{x:297.5,y:458.5,width:385,height:26.5},silent:true,style:{fill:colors.none,stroke:"#c9b8a4",lineWidth:1}},
    {type:"rect",shape:{x:298,y:459,width:128,height:26},silent:true,style:{fill:colors.neutral}},
    {type:"rect",shape:{x:426,y:459,width:127,height:26},silent:true,style:{fill:colors.female}},
    lab(307,488,legendLabels[0][0]),lab(307,502,legendLabels[0][1]),
    lab(431,489,legendLabels[1][0]),lab(431,504,legendLabels[1][1]),
    lab(567,489,legendLabels[2][0])
  ]
});
</script></body></html>
